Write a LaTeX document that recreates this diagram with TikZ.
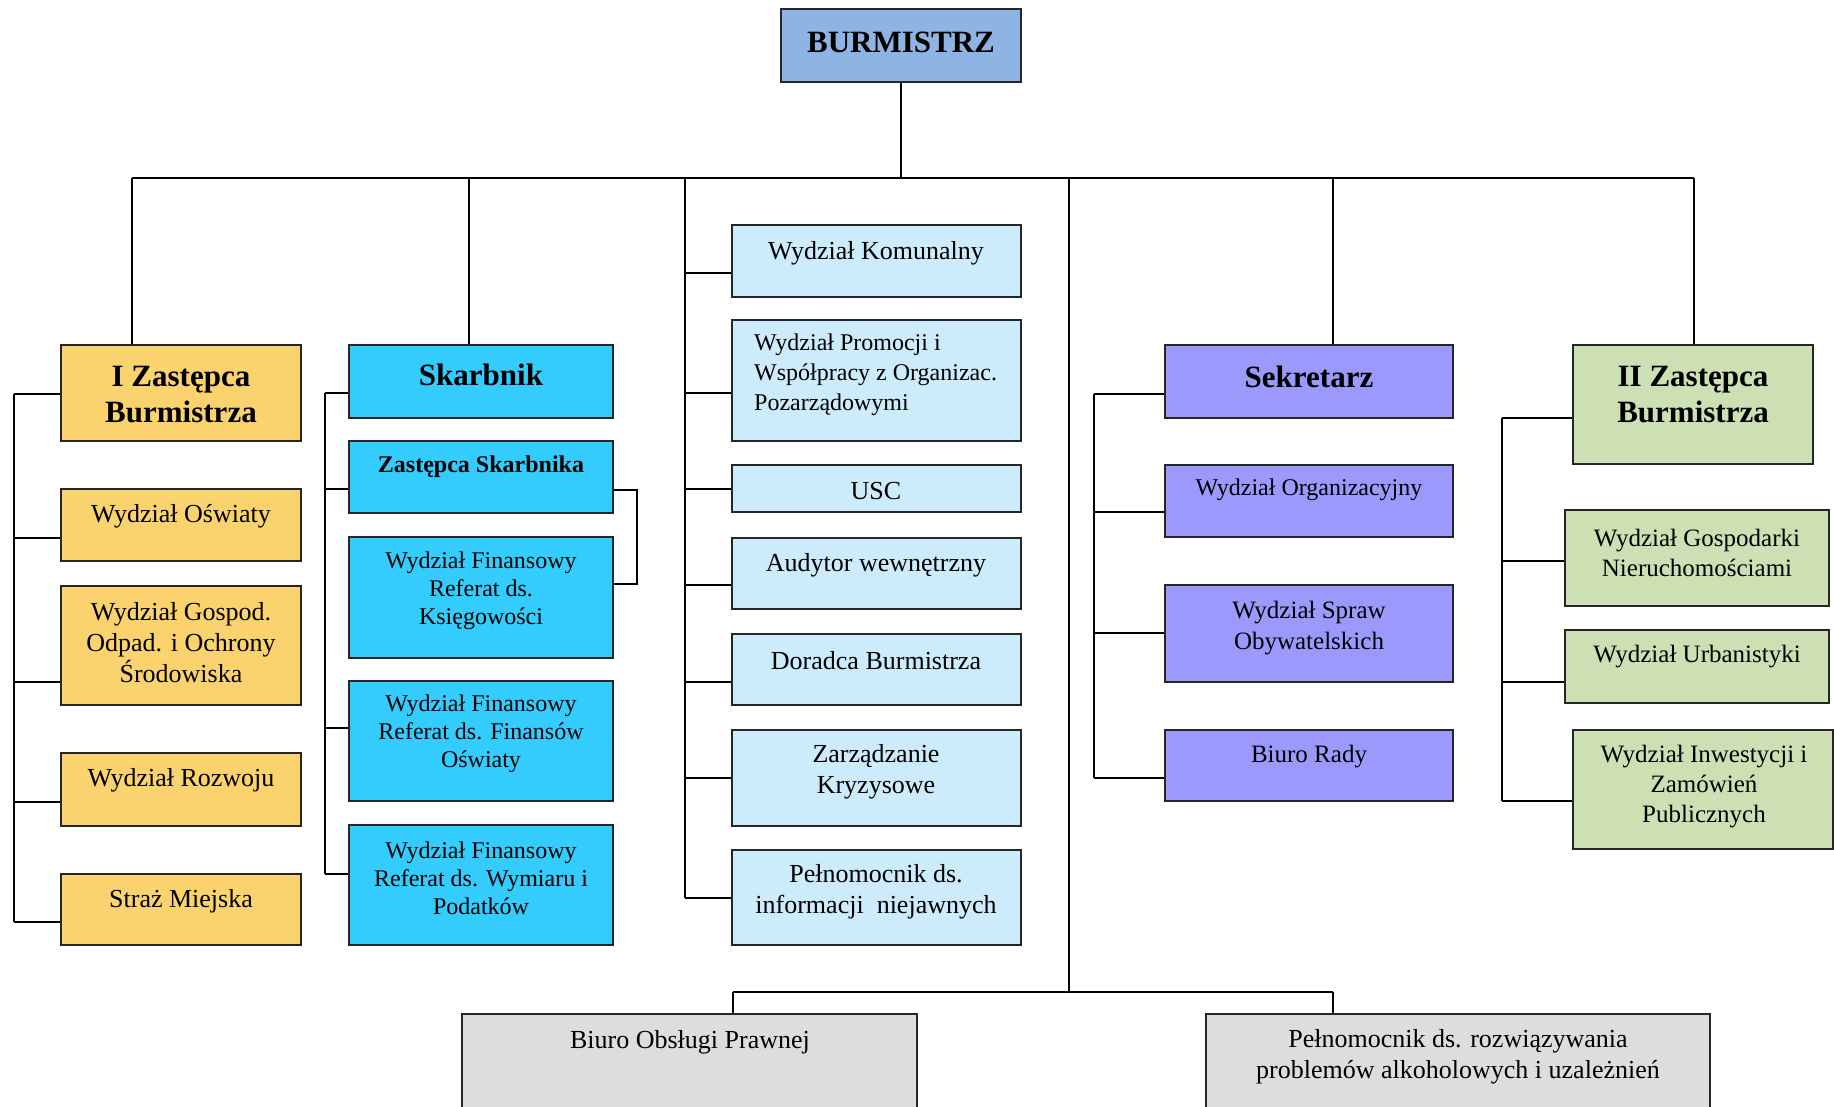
\documentclass[tikz,border=0pt]{standalone}
\usepackage{fontspec}
\setmainfont{Liberation Serif}
\usetikzlibrary{fit}
\definecolor{burc}{RGB}{141,180,226}
\definecolor{yelc}{RGB}{250,211,110}
\definecolor{skac}{RGB}{51,204,252}
\definecolor{cenc}{RGB}{204,236,252}
\definecolor{purc}{RGB}{155,153,252}
\definecolor{grnc}{RGB}{204,224,180}
\definecolor{gryc}{RGB}{221,221,221}
\begin{document}
\begin{tikzpicture}[x=1pt,y=-1pt,
  box/.style={draw=black!85, line width=2.2pt, rectangle, inner sep=0pt},
  lbl/.style={align=center, inner sep=0pt, font=\fontsize{26}{31}\selectfont},
  lbls/.style={align=center, inner sep=0pt, font=\fontsize{24}{28}\selectfont},
  hd/.style={align=center, inner sep=0pt, font=\bfseries\fontsize{31}{36}\selectfont},
  conn/.style={draw=black, line width=1.8pt}]
\useasboundingbox (0,0) rectangle (1834,1106);
\clip (0,0) rectangle (1834,1106);

% ---------- boxes ----------
\node[box, fill=burc, fit={(781,9) (1021,82)}] (bur) {};
\node[hd] (bur-t) at (901,42) {BURMISTRZ};

% I Zastepca column
\node[box, fill=yelc, fit={(61,345) (301,441)}] (izb) {};
\node[hd] (izb-t) at (181,395) {I Zastępca\\Burmistrza};
\node[box, fill=yelc, fit={(61,489) (301,561)}] (osw) {};
\node[lbl] (osw-t) at (181,516) {Wydział Oświaty};
\node[box, fill=yelc, fit={(61,586) (301,705)}] (gos) {};
\node[lbl] (gos-t) at (181,643) {Wydział Gospod.\\Odpad. i Ochrony\\Środowiska};
\node[box, fill=yelc, fit={(61,753) (301,826)}] (roz) {};
\node[lbl] (roz-t) at (181,780) {Wydział Rozwoju};
\node[box, fill=yelc, fit={(61,874) (301,945)}] (str) {};
\node[lbl] (str-t) at (181,901) {Straż Miejska};

% Skarbnik column
\node[box, fill=skac, fit={(349,345) (613,418)}] (ska) {};
\node[hd] (ska-t) at (481,375) {Skarbnik};
\node[box, fill=skac, fit={(349,441) (613,513)}] (zsk) {};
\node[align=center, inner sep=0pt, font=\bfseries\fontsize{24}{28}\selectfont] (zsk-t) at (481,467) {Zastępca Skarbnika};
\node[box, fill=skac, fit={(349,537) (613,658)}] (ksi) {};
\node[lbls] (ksi-t) at (481,591) {Wydział Finansowy\\Referat ds.\\Księgowości};
\node[box, fill=skac, fit={(349,681) (613,801)}] (fos) {};
\node[lbls] (fos-t) at (481,734) {Wydział Finansowy\\Referat ds. Finansów\\Oświaty};
\node[box, fill=skac, fit={(349,825) (613,945)}] (wym) {};
\node[lbls] (wym-t) at (481,878) {Wydział Finansowy\\Referat ds. Wymiaru i\\Podatków};

% central column
\node[box, fill=cenc, fit={(732,225) (1021,297)}] (kom) {};
\node[lbl] (kom-t) at (876,253) {Wydział Komunalny};
\node[box, fill=cenc, fit={(732,320) (1021,441)}] (pro) {};
\node[align=left, anchor=west, inner sep=0pt, font=\fontsize{24}{30}\selectfont] (pro-t) at (754,375) {Wydział Promocji i\\Współpracy z Organizac.\\Pozarządowymi};
\node[box, fill=cenc, fit={(732,465) (1021,512)}] (usc) {};
\node[lbl] (usc-t) at (876,491) {USC};
\node[box, fill=cenc, fit={(732,538) (1021,609)}] (aud) {};
\node[lbl] (aud-t) at (876,565) {Audytor wewnętrzny};
\node[box, fill=cenc, fit={(732,634) (1021,705)}] (dor) {};
\node[lbl] (dor-t) at (876,661) {Doradca Burmistrza};
\node[box, fill=cenc, fit={(732,730) (1021,826)}] (zar) {};
\node[lbl] (zar-t) at (876,772) {Zarządzanie\\Kryzysowe};
\node[box, fill=cenc, fit={(732,850) (1021,945)}] (pel) {};
\node[lbl] (pel-t) at (876,892) {Pełnomocnik ds.\\informacji~~niejawnych};

% Sekretarz column
\node[box, fill=purc, fit={(1165,345) (1453,418)}] (sek) {};
\node[hd] (sek-t) at (1309,377) {Sekretarz};
\node[box, fill=purc, fit={(1165,465) (1453,537)}] (org) {};
\node[lbls] (org-t) at (1309,490) {Wydział Organizacyjny};
\node[box, fill=purc, fit={(1165,585) (1453,682)}] (obw) {};
\node[lbls, font=\fontsize{25}{31}\selectfont] (obw-t) at (1309,628) {Wydział Spraw\\Obywatelskich};
\node[box, fill=purc, fit={(1165,730) (1453,801)}] (rad) {};
\node[lbls, font=\fontsize{25}{31}\selectfont] (rad-t) at (1309,757) {Biuro Rady};

% II Zastepca column
\node[box, fill=grnc, fit={(1573,345) (1813,464)}] (iizb) {};
\node[hd] (iizb-t) at (1693,395) {II Zastępca\\Burmistrza};
\node[box, fill=grnc, fit={(1565,510) (1829,606)}] (gnr) {};
\node[lbl, font=\fontsize{25}{30}\selectfont] (gnr-t) at (1697,553) {Wydział Gospodarki\\Nieruchomościami};
\node[box, fill=grnc, fit={(1565,630) (1829,703)}] (urb) {};
\node[lbl, font=\fontsize{25}{30}\selectfont] (urb-t) at (1697,657) {Wydział Urbanistyki};
\node[box, fill=grnc, fit={(1573,730) (1833,849)}] (inw) {};
\node[lbl, font=\fontsize{25}{30}\selectfont] (inw-t) at (1704,787) {Wydział Inwestycji i\\Zamówień\\Publicznych};

% bottom
\node[box, fill=gryc, fit={(462,1014) (917,1130)}] (bop) {};
\node[lbl] (bop-t) at (690,1042) {Biuro Obsługi Prawnej};
\node[box, fill=gryc, fit={(1206,1014) (1710,1130)}] (pra) {};
\node[lbl] (pra-t) at (1458,1057) {Pełnomocnik ds. rozwiązywania\\problemów alkoholowych i uzależnień};

% ---------- connectors ----------
\coordinate (busL) at (132,178);
\coordinate (busR) at (1694,178);
\coordinate (dSka) at (469,178);
\coordinate (dCen) at (685,178);
\coordinate (dMid) at (1069,178);
\coordinate (dSek) at (1333,178);
\draw[conn] (busL) -- (busR);
\draw[conn] (bur.south) -- (bur.south |- busL);
\draw[conn] (busL) -- (busL |- izb.north);
\draw[conn] (dSka) -- (dSka |- ska.north);
\draw[conn] (dSek) -- (dSek |- sek.north);
\draw[conn] (busR) -- (busR |- iizb.north);

% I Zastepca bracket
\coordinate (sp1) at (14,0);
\draw[conn] (sp1 |- 0,394) -- (sp1 |- 0,922);
\draw[conn] (sp1 |- 0,394) -- (izb.west |- 0,394);
\draw[conn] (sp1 |- 0,538) -- (osw.west |- 0,538);
\draw[conn] (sp1 |- 0,682) -- (gos.west |- 0,682);
\draw[conn] (sp1 |- 0,802) -- (roz.west |- 0,802);
\draw[conn] (sp1 |- 0,922) -- (str.west |- 0,922);

% Skarbnik bracket
\coordinate (sp2) at (325,0);
\draw[conn] (sp2 |- 0,393) -- (sp2 |- 0,874);
\draw[conn] (sp2 |- 0,393) -- (ska.west |- 0,393);
\draw[conn] (sp2 |- 0,489) -- (zsk.west |- 0,489);
\draw[conn] (sp2 |- 0,728) -- (fos.west |- 0,728);
\draw[conn] (sp2 |- 0,874) -- (wym.west |- 0,874);
\coordinate (sp2r) at (637,0);
\draw[conn] (zsk.east |- 0,490) -- (sp2r |- 0,490) -- (sp2r |- 0,584) -- (ksi.east |- 0,584);

% central bracket
\draw[conn] (dCen) -- (dCen |- 0,898);
\draw[conn] (dCen |- 0,273) -- (kom.west |- 0,273);
\draw[conn] (dCen |- 0,393) -- (pro.west |- 0,393);
\draw[conn] (dCen |- 0,489) -- (usc.west |- 0,489);
\draw[conn] (dCen |- 0,585) -- (aud.west |- 0,585);
\draw[conn] (dCen |- 0,682) -- (dor.west |- 0,682);
\draw[conn] (dCen |- 0,778) -- (zar.west |- 0,778);
\draw[conn] (dCen |- 0,898) -- (pel.west |- 0,898);

% Sekretarz bracket
\coordinate (sp3) at (1094,0);
\draw[conn] (sp3 |- 0,394) -- (sp3 |- 0,778);
\draw[conn] (sp3 |- 0,394) -- (sek.west |- 0,394);
\draw[conn] (sp3 |- 0,512) -- (org.west |- 0,512);
\draw[conn] (sp3 |- 0,633) -- (obw.west |- 0,633);
\draw[conn] (sp3 |- 0,778) -- (rad.west |- 0,778);

% II Zastepca bracket
\coordinate (sp4) at (1502,0);
\draw[conn] (sp4 |- 0,418) -- (sp4 |- 0,801);
\draw[conn] (sp4 |- 0,418) -- (iizb.west |- 0,418);
\draw[conn] (sp4 |- 0,561) -- (gnr.west |- 0,561);
\draw[conn] (sp4 |- 0,682) -- (urb.west |- 0,682);
\draw[conn] (sp4 |- 0,801) -- (inw.west |- 0,801);

% bottom
\coordinate (bbL) at (733,992);
\coordinate (bbR) at (1333,992);
\draw[conn] (dMid) -- (dMid |- bbL);
\draw[conn] (bbL) -- (bbR);
\draw[conn] (bbL) -- (bbL |- bop.north);
\draw[conn] (bbR) -- (bbR |- pra.north);
\end{tikzpicture}
\end{document}
